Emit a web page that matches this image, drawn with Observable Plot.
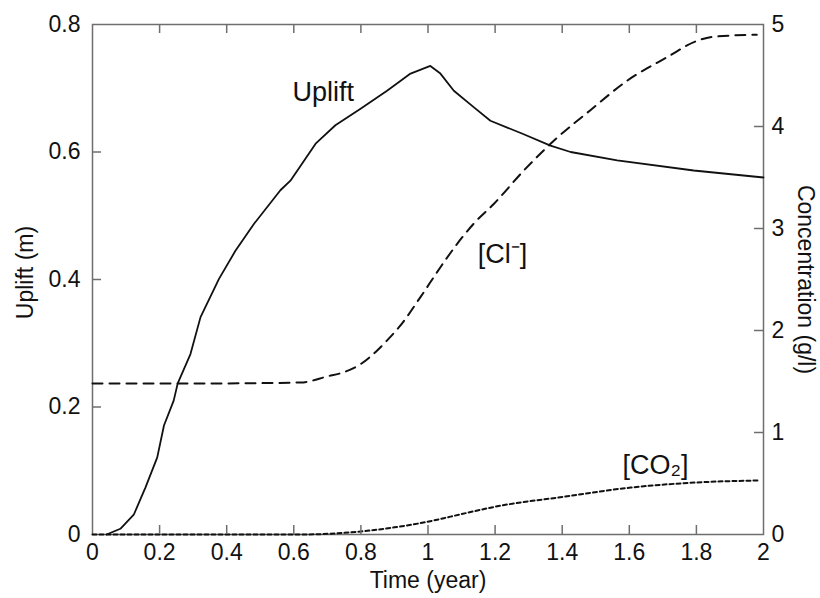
<!DOCTYPE html>
<html><head><meta charset="utf-8">
<script src="https://cdn.jsdelivr.net/npm/d3@7"></script>
<script src="https://cdn.jsdelivr.net/npm/@observablehq/plot@0.6"></script>
<style>html,body{margin:0;padding:0;background:#fff;}</style>
</head><body><div id="chart"></div>
<script>
// Uplift (m) vs time (year)
const upliftTime   = [0.042, 0.083, 0.123, 0.158, 0.193, 0.213, 0.242, 0.254, 0.292, 0.322, 0.377, 0.426, 0.481, 0.56, 0.59, 0.665, 0.724, 0.799, 0.878, 0.948, 1.007, 1.037, 1.077, 1.137, 1.186, 1.28, 1.365, 1.425, 1.564, 1.792, 2.0];
const upliftValues = [0, 0.009, 0.031, 0.074, 0.121, 0.171, 0.21, 0.237, 0.283, 0.341, 0.401, 0.445, 0.487, 0.54, 0.555, 0.613, 0.642, 0.668, 0.696, 0.723, 0.735, 0.723, 0.696, 0.670, 0.649, 0.629, 0.610, 0.600, 0.587, 0.571, 0.560];
// [Cl-] concentration (g/l)
const clTime   = [0, 0.3, 0.62, 0.70, 0.748, 0.799, 0.844, 0.883, 0.918, 0.978, 1.037, 1.087, 1.137, 1.196, 1.286, 1.375, 1.484, 1.594, 1.713, 1.802, 1.852, 1.98];
const clValues = [1.48, 1.48, 1.49, 1.55, 1.59, 1.67, 1.79, 1.92, 2.05, 2.33, 2.62, 2.85, 3.05, 3.24, 3.57, 3.86, 4.16, 4.45, 4.68, 4.84, 4.88, 4.90];
// [CO2] concentration (g/l)
const co2Time   = [0, 0.62, 0.80, 0.90, 1.017, 1.067, 1.216, 1.405, 1.604, 1.80, 1.99];
const co2Values = [0, 0, 0.03, 0.07, 0.137, 0.175, 0.282, 0.37, 0.46, 0.51, 0.53];

// axes
const xTicks = [0, 0.2, 0.4, 0.6, 0.8, 1, 1.2, 1.4, 1.6, 1.8, 2];
const upliftTicks = [0, 0.2, 0.4, 0.6, 0.8];
const concTicks = [0, 1, 2, 3, 4, 5];
const timeMax = 2, upliftMax = 0.8, concMax = 5;
const k = upliftMax / concMax;

// curve annotations (time, value on uplift axis)
const labelNames = ["Uplift", "[Cl\u207B]", "[CO\u2082]"];
const labelTime  = [0.596, 1.148, 1.58];
const labelValue = [0.693, 0.440, 0.108];

const upliftData = upliftTime.map((t, i) => ({t, v: upliftValues[i]}));
const clData = clTime.map((t, i) => ({t, c: clValues[i]}));
const co2Data = co2Time.map((t, i) => ({t, c: co2Values[i]}));

const font = "'Liberation Sans', Arial, Helvetica, sans-serif";
const axisGray = "#6e6e6e";
const fmt = d => String(+(+d).toFixed(2));

const W = 820, H = 598, mL = 92, mR = 57, mT = 24, mB = 64;
const frameW = W - mL - mR, frameH = H - mT - mB;
const tickLen = 9;                                   // px
const tickX = tickLen / frameW * timeMax;            // tick length in time units
const tickY = tickLen / frameH * upliftMax;          // tick length in uplift units
const tickStyle = {stroke: axisGray, strokeWidth: 1.5};

const chart = Plot.plot({
  width: W, height: H,
  marginLeft: mL, marginRight: mR, marginTop: mT, marginBottom: mB,
  style: {fontFamily: font, fontSize: "23px", color: "#111", background: "#fff"},
  x: {domain: [0, timeMax]},
  y: {domain: [0, upliftMax]},
  marks: [
    Plot.frame({stroke: axisGray, strokeWidth: 1.5}),
    // tick labels
    Plot.axisX(xTicks, {anchor: "bottom", tickSize: 0, tickPadding: 9, label: null, fill: "#111", fontSize: 23, tickFormat: fmt}),
    Plot.axisY(upliftTicks, {anchor: "left", tickSize: 0, tickPadding: 12, label: null, fill: "#111", fontSize: 23, tickFormat: fmt}),
    Plot.axisY(concTicks.map(c => c * k), {anchor: "right", tickSize: 0, tickPadding: 8, label: null, fill: "#111", fontSize: 23,
      tickFormat: d => String(Math.round(d / k))}),
    // axis titles
    Plot.text(["Uplift (m)"], {frameAnchor: "left", dx: -67, dy: -7, rotate: -90, textAnchor: "middle", lineAnchor: "middle", fontSize: 23, fill: "#111"}),
    Plot.text(["Concentration (g/l)"], {frameAnchor: "right", dx: 42, rotate: 90, textAnchor: "middle", lineAnchor: "middle", fontSize: 23, fill: "#111"}),
    Plot.text(["Time (year)"], {frameAnchor: "bottom", dy: 53, fontSize: 23, fill: "#111"}),
    // series
    Plot.line(clData, {x: "t", y: d => d.c * k, stroke: "#111", strokeWidth: 2, strokeDasharray: "10,7", curve: "monotone-x"}),
    Plot.line(co2Data, {x: "t", y: d => d.c * k, stroke: "#111", strokeWidth: 2, strokeDasharray: "4,3", curve: "monotone-x"}),
    Plot.line(upliftData, {x: "t", y: "v", stroke: "#111", strokeWidth: 1.8}),
    // annotations
    Plot.text(labelNames, {x: (d, i) => labelTime[i], y: (d, i) => labelValue[i], textAnchor: "start", fontSize: 27, fill: "#111"}),
    // inward ticks on all four sides (drawn last)
    Plot.ruleX(xTicks.filter(t => t > 0 && t < timeMax), {x: d => d, y1: 0, y2: tickY, ...tickStyle}),
    Plot.ruleX(xTicks.filter(t => t > 0 && t < timeMax), {x: d => d, y1: upliftMax - tickY, y2: upliftMax, ...tickStyle}),
    Plot.ruleY(upliftTicks.filter(v => v > 0 && v < upliftMax), {y: d => d, x1: 0, x2: tickX, ...tickStyle}),
    Plot.ruleY(concTicks.filter(c => c > 0 && c < concMax), {y: d => d * k, x1: timeMax - tickX, x2: timeMax, ...tickStyle})
  ]
});
document.getElementById("chart").appendChild(chart);
</script>
</body></html>
